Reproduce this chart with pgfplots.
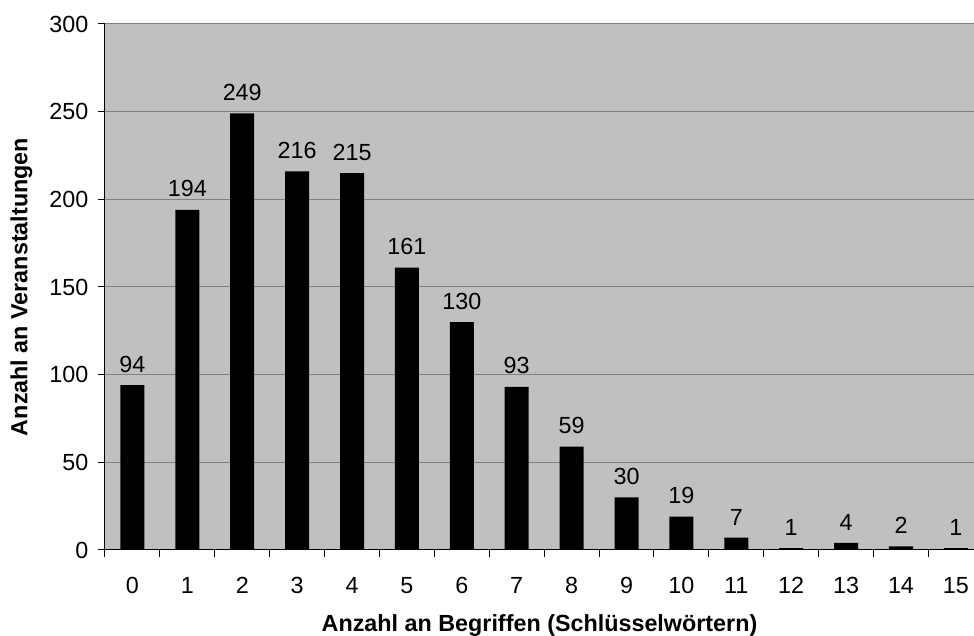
\documentclass[border=0pt]{standalone}
\usepackage{fontspec}
\setmainfont{Liberation Sans}
\usepackage{pgfplots}
\pgfplotsset{compat=1.18}

\definecolor{plotbg}{RGB}{192,192,192}
\definecolor{gridgray}{RGB}{128,128,128}

\begin{document}
\begin{tikzpicture}
\begin{axis}[
	scale only axis,
	width=651.75pt,
	height=394.5pt,
	axis background/.style={fill=plotbg},
	ybar,
	bar width=18pt,
	xmin=-0.5, xmax=15.33,
	ymin=0, ymax=300,
	xtick={0,...,15},
	minor xtick={-0.5,0.5,...,14.5},
	major x tick style={draw=none},
	ytick={0,50,...,300},
	axis lines*=left,
	axis line style={black, line width=0.75pt},
	tick align=outside,
	major tick length=5pt,
	minor tick length=5pt,
	tick style={black, line width=0.75pt},
	ymajorgrids,
	grid style={gridgray, line width=0.75pt},
	tick label style={font=\fontsize{17.5}{20}\selectfont},
	/pgf/number format/assume math mode=true,
	xticklabel style={yshift=-12pt},
	yticklabel style={xshift=-4pt},
	nodes near coords,
	every node near coord/.append style={font=\fontsize{17.5}{20}\selectfont, black, yshift=6pt},
	xlabel={Anzahl an Begriffen (Schlüsselwörtern)},
	ylabel={Anzahl an Veranstaltungen},
	label style={font=\fontsize{17.5}{20}\selectfont\bfseries},
	xlabel style={yshift=-9pt},
	ylabel style={yshift=6pt},
	clip=false,
]
\addplot[fill=black, draw=none] coordinates {
	(0,94) (1,194) (2,249) (3,216) (4,215) (5,161) (6,130) (7,93)
	(8,59) (9,30) (10,19) (11,7) (12,1) (13,4) (14,2) (15,1)
};
\coordinate (sw) at (rel axis cs:0,0);
\coordinate (ne) at (rel axis cs:1,1);
\end{axis}
\pgfresetboundingbox
\path[use as bounding box] ([shift={(-78.75pt,-64.5pt)}]sw) rectangle ([shift={(0pt,18pt)}]ne);
\end{tikzpicture}
\end{document}
